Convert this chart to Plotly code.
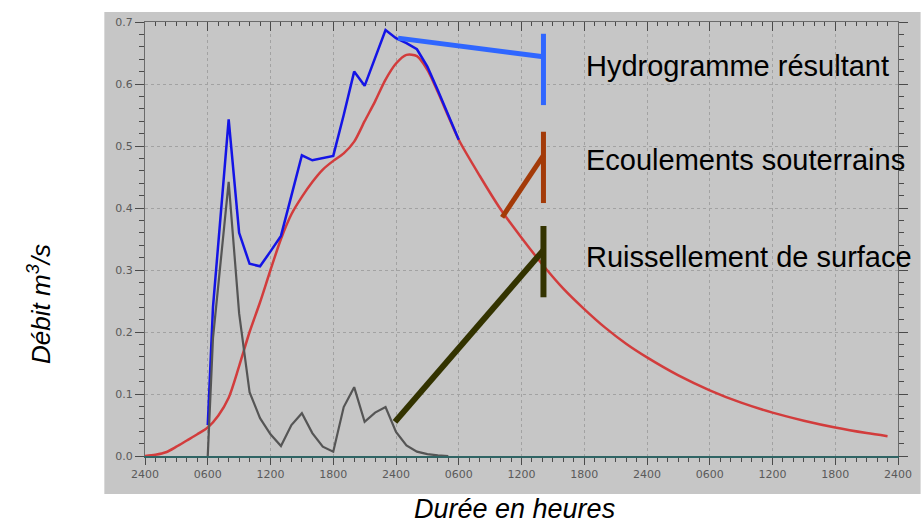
import plotly.graph_objects as go

# Time axis in hours from the start of the event; labels are clock times
tick_hours = list(range(0, 73, 6))
tick_labels = ["2400", "0600", "1200", "1800", "2400", "0600", "1200",
               "1800", "2400", "0600", "1200", "1800", "2400"]

# Baseflow (écoulements souterrains), m3/s
base_hours = [0, 1, 2, 3, 4, 5, 6, 7, 8, 9, 10, 11, 12, 13, 14, 15, 16, 17, 18, 19,
              20, 21, 22, 23, 24, 25, 26, 27, 28, 29, 30, 32, 34, 36, 38, 40, 42, 44,
              46, 48, 51, 54, 57, 60, 63, 66, 69, 71]
base_flow = [0.0, 0.002, 0.006, 0.015, 0.025, 0.035, 0.046, 0.065, 0.094, 0.145,
             0.2, 0.248, 0.3, 0.35, 0.39, 0.418, 0.442, 0.462, 0.476, 0.488,
             0.507, 0.54, 0.572, 0.607, 0.633, 0.647, 0.645, 0.623, 0.587, 0.548,
             0.51, 0.452, 0.398, 0.352, 0.309, 0.27, 0.237, 0.207, 0.181, 0.159,
             0.13, 0.106, 0.086, 0.07, 0.057, 0.046, 0.037, 0.032]

# Surface runoff (ruissellement de surface), m3/s
runoff_hours = [6, 6.5, 8, 9, 10, 11, 12, 13, 14, 15, 16, 17, 18, 19, 20, 21, 22,
                23, 24, 25, 26, 27, 28, 29]
runoff_flow = [0.0, 0.19, 0.442, 0.23, 0.103, 0.061, 0.035, 0.016, 0.05, 0.069,
               0.037, 0.015, 0.007, 0.079, 0.111, 0.055, 0.07, 0.079, 0.039,
               0.017, 0.007, 0.003, 0.001, 0.0]

# Resulting hydrograph (hydrogramme résultant), m3/s
total_hours = [6, 6.5, 8, 9, 10, 11, 12, 13, 14, 15, 16, 17, 18, 19, 20, 21, 22,
               23, 24, 25, 26, 27, 28, 29, 30]
total_flow = [0.05, 0.24, 0.543, 0.36, 0.31, 0.306, 0.33, 0.355, 0.42, 0.485,
              0.477, 0.48, 0.484, 0.55, 0.62, 0.597, 0.642, 0.687, 0.674, 0.666,
              0.656, 0.628, 0.59, 0.549, 0.51]

FONT = "Liberation Sans, Arial, sans-serif"
PANEL = "#c6c6c6"
GRID = "#a2a2a2"
TICKFONT = dict(family="DejaVu Sans, sans-serif", size=11, color="#5a5a5a")

fig = go.Figure()

fig.add_trace(go.Scatter(x=base_hours, y=base_flow, mode="lines",
                         line=dict(color="#d23c3c", width=2.5, shape="spline", smoothing=0.8),
                         hoverinfo="skip", showlegend=False))
fig.add_trace(go.Scatter(x=total_hours, y=total_flow, mode="lines",
                         line=dict(color="#1414e6", width=2.5),
                         hoverinfo="skip", showlegend=False))
fig.add_trace(go.Scatter(x=runoff_hours, y=runoff_flow, mode="lines",
                         line=dict(color="#555555", width=2.2),
                         hoverinfo="skip", showlegend=False))
# carrier trace for the top / right frame axes
fig.add_trace(go.Scatter(x=[None], y=[None], xaxis="x2", yaxis="y2",
                         hoverinfo="skip", showlegend=False))

# gray panel behind the whole chart
fig.add_shape(type="rect", xref="paper", yref="paper",
              x0=-0.054, x1=1.03, y0=-0.0876, y1=1.023,
              fillcolor=PANEL, line=dict(width=0), layer="below")

# leader lines from each curve to its label
leaders = [
    ("#2f66ff", 5, (24.2, 0.674), (38.1, 0.644), (0.681, 0.566)),
    ("#a33a08", 5, (34.15, 0.385), (38.1, 0.485), (0.523, 0.408)),
    ("#333300", 6, (23.9, 0.055), (38.1, 0.332), (0.371, 0.256)),
]
for color, w, p0, p1, (ytop, ybot) in leaders:
    fig.add_shape(type="line", xref="x", yref="y", x0=p0[0], y0=p0[1], x1=p1[0], y1=p1[1],
                  line=dict(color=color, width=w))
    fig.add_shape(type="line", xref="x", yref="y", x0=p1[0], y0=ytop, x1=p1[0], y1=ybot,
                  line=dict(color=color, width=w))

labels = [("Hydrogramme résultant", 0.629),
          ("Ecoulements souterrains", 0.477),
          ("Ruissellement de surface", 0.321)]
for text, yv in labels:
    fig.add_annotation(x=41.93, y=yv, xref="x", yref="y", text=text, showarrow=False,
                       xanchor="left", yanchor="middle",
                       font=dict(family=FONT, size=29, color="#000000"))

fig.add_annotation(x=-0.141, y=0.35, xref="paper", yref="paper",
                   text="<i>Débit m<sup>3</sup>/s</i>", showarrow=False, textangle=-90,
                   xanchor="center", yanchor="middle",
                   font=dict(family=FONT, size=26, color="#000000"))
fig.add_annotation(x=0.491, y=-0.122, xref="paper", yref="paper",
                   text="<i>Durée en heures</i>", showarrow=False,
                   xanchor="center", yanchor="middle",
                   font=dict(family=FONT, size=27, color="#000000"))

fig.update_layout(
    width=924, height=524,
    margin=dict(l=145, r=20, t=22, b=68),
    paper_bgcolor="#ffffff", plot_bgcolor=PANEL,
    xaxis=dict(range=[0, 72], tickmode="array", tickvals=tick_hours, ticktext=tick_labels,
               ticks="outside", ticklen=7, tickcolor="#4a4a4a", tickfont=TICKFONT,
               minor=dict(tickmode="array", tickvals=list(range(0, 73)), ticks="outside",
                          ticklen=4, tickcolor="#4a4a4a", showgrid=False),
               showline=True, linecolor="#2f6464", linewidth=2,
               showgrid=True, gridcolor=GRID, griddash="dot", gridwidth=1,
               zeroline=False, fixedrange=True),
    yaxis=dict(range=[0, 0.7], tick0=0, dtick=0.1, tickformat=".1f",
               ticks="outside", ticklen=9, tickcolor="#4a4a4a", tickfont=TICKFONT,
               minor=dict(dtick=0.02, ticks="outside", ticklen=5, tickcolor="#4a4a4a",
                          showgrid=False),
               showline=True, linecolor="#6a6a6a", linewidth=1,
               showgrid=True, gridcolor=GRID, griddash="dot", gridwidth=1,
               zeroline=False, fixedrange=True),
    xaxis2=dict(range=[0, 72], overlaying="x", side="top", tickmode="array",
                tickvals=tick_hours, showticklabels=False, ticks="inside", ticklen=9,
                tickcolor="#4a4a4a",
                minor=dict(tickmode="array", tickvals=list(range(0, 73)), ticks="inside",
                           ticklen=4, tickcolor="#4a4a4a"),
                showline=True, linecolor="#6a6a6a", linewidth=1, showgrid=False,
                zeroline=False, fixedrange=True),
    yaxis2=dict(range=[0, 0.7], overlaying="y", side="right", tick0=0, dtick=0.1,
                showticklabels=False, ticks="outside", ticklen=9, tickcolor="#4a4a4a",
                minor=dict(dtick=0.02, ticks="outside", ticklen=5, tickcolor="#4a4a4a"),
                showline=True, linecolor="#6a6a6a", linewidth=1, showgrid=False,
                zeroline=False, fixedrange=True),
)

fig.write_html("out.html")
